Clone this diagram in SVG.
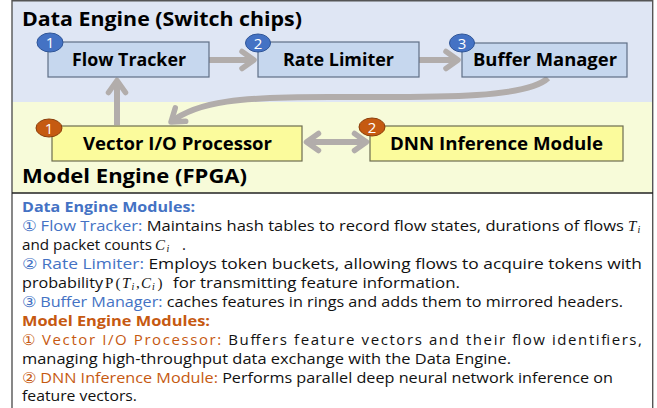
<svg xmlns="http://www.w3.org/2000/svg" width="657" height="408" viewBox="0 0 657 408">
<defs>
<style>
.t{font-family:"Open Sans","Noto Sans","Liberation Sans",sans-serif;}
.title{font-size:20px;font-weight:bold;fill:#000;}
.lbl{font-size:17.5px;font-weight:bold;fill:#000;text-anchor:middle;}
.num{font-size:15px;fill:#fff;text-anchor:middle;}
.body{font-size:15px;fill:#111;}
.blue{fill:#4472c4;}
.orange{fill:#c65911;}
.b{font-weight:bold;}
.m{font-family:"Liberation Serif","DejaVu Serif",serif;font-style:italic;font-size:15px;fill:#111;}
.ms{font-family:"Liberation Serif","DejaVu Serif",serif;font-style:italic;font-size:10px;fill:#111;}
.mr{font-family:"Liberation Serif","DejaVu Serif",serif;font-size:15px;fill:#111;}
.bbox{fill:#c6d7ee;stroke:#5f6f86;stroke-width:1.2;}
.ybox{fill:#fbfb9c;stroke:#6d6d50;stroke-width:1.2;}
.bbadge{fill:#4472c4;stroke:#2f5597;stroke-width:1;}
.obadge{fill:#c55a11;stroke:#8a3d0a;stroke-width:1;}
.arr{fill:none;stroke:#b2adab;stroke-width:6;}
</style>
<marker id="chev" markerUnits="userSpaceOnUse" markerWidth="40" markerHeight="40" viewBox="-20 -20 40 40" refX="0" refY="0" orient="auto-start-reverse" overflow="visible">
<path d="M-12,-8.5 L0,0 L-12,8.5" fill="none" stroke="#b2adab" stroke-width="5.5" stroke-linecap="round" stroke-linejoin="round"/>
</marker>
</defs>

<!-- backgrounds -->
<rect x="12" y="0" width="641" height="102" fill="#dfe6f4"/>
<rect x="12" y="102" width="641" height="91" fill="#f7fbd9"/>
<rect x="12" y="193" width="641" height="220" fill="#ffffff"/>
<line x1="12" y1="0.7" x2="653" y2="0.7" stroke="#555" stroke-width="1.4"/>
<line x1="12" y1="0" x2="12" y2="408" stroke="#555" stroke-width="1.4"/>
<line x1="652.7" y1="0" x2="652.7" y2="408" stroke="#555" stroke-width="1.4"/>
<line x1="12" y1="193" x2="653" y2="193" stroke="#222" stroke-width="1.4"/>

<text class="t title" x="22" y="26" textLength="280" lengthAdjust="spacingAndGlyphs">Data Engine (Switch chips)</text>
<text class="t title" x="22" y="183" textLength="225" lengthAdjust="spacingAndGlyphs">Model Engine (FPGA)</text>

<!-- connectors -->
<g id="connectors">
<line class="arr" x1="209" y1="60" x2="254" y2="60" marker-end="url(#chev)"/>
<line class="arr" x1="419" y1="60" x2="458" y2="60" marker-end="url(#chev)"/>
<line class="arr" x1="117" y1="125" x2="117" y2="80.5" marker-end="url(#chev)"/>
<path class="arr" d="M548,78 C525,100 420,97 330,97 C240,97 198,101 171,122" marker-end="url(#chev)"/>
<line class="arr" x1="306.5" y1="142" x2="366.5" y2="142" marker-start="url(#chev)" marker-end="url(#chev)"/>
</g>

<!-- nodes -->
<g id="flow-tracker">
<rect class="bbox" x="48" y="42" width="161" height="35"/>
<text class="t lbl" x="129" y="65.5" textLength="114" lengthAdjust="spacingAndGlyphs">Flow Tracker</text>
<ellipse class="bbadge" cx="50" cy="42.5" rx="13" ry="9.5"/>
<text class="t num" x="50" y="48">1</text>
</g>
<g id="rate-limiter">
<rect class="bbox" x="258" y="42" width="161" height="35"/>
<text class="t lbl" x="338.5" y="65.5" textLength="111" lengthAdjust="spacingAndGlyphs">Rate Limiter</text>
<ellipse class="bbadge" cx="258" cy="43" rx="12.5" ry="9"/>
<text class="t num" x="258" y="48.5">2</text>
</g>
<g id="buffer-manager">
<rect class="bbox" x="462" y="43" width="165" height="34"/>
<text class="t lbl" x="545" y="65.5" textLength="144" lengthAdjust="spacingAndGlyphs">Buffer Manager</text>
<ellipse class="bbadge" cx="462" cy="43" rx="12.5" ry="9"/>
<text class="t num" x="462" y="48.5">3</text>
</g>
<g id="vector-io">
<rect class="ybox" x="52" y="126" width="250" height="35"/>
<text class="t lbl" x="177.5" y="149.5" textLength="189" lengthAdjust="spacingAndGlyphs">Vector I/O Processor</text>
<ellipse class="obadge" cx="49" cy="128" rx="13" ry="9"/>
<text class="t num" x="49" y="133.5">1</text>
</g>
<g id="dnn-inference">
<rect class="ybox" x="370" y="126" width="253" height="35"/>
<text class="t lbl" x="496.5" y="149.5" textLength="213" lengthAdjust="spacingAndGlyphs">DNN Inference Module</text>
<ellipse class="obadge" cx="372" cy="127" rx="13" ry="9"/>
<text class="t num" x="372" y="132.5">2</text>
</g>

<!-- description text -->
<g id="description">
<text class="t body blue b" x="22" y="212" textLength="173" lengthAdjust="spacingAndGlyphs">Data Engine Modules:</text>

<text class="t body" x="22" y="231" textLength="602" lengthAdjust="spacingAndGlyphs"><tspan class="blue">① Flow Tracker:</tspan> Maintains hash tables to record flow states, durations of flows</text>
<text class="m" x="628" y="231">T</text>
<text class="ms" x="637.5" y="232.5">i</text>

<text class="t body" x="22" y="250" textLength="130" lengthAdjust="spacingAndGlyphs">and packet counts</text>
<text class="m" x="155" y="250">C</text>
<text class="ms" x="166.5" y="251.5">i</text>
<text class="t body" x="182" y="250">.</text>

<text class="t body" x="22" y="269" textLength="620" lengthAdjust="spacingAndGlyphs"><tspan class="blue">② Rate Limiter:</tspan> Employs token buckets, allowing flows to acquire tokens with</text>

<text class="t body" x="22" y="288" textLength="81" lengthAdjust="spacingAndGlyphs">probability</text>
<text class="mr" x="105" y="288">P</text>
<text class="mr" x="115.5" y="288">(</text>
<text class="m" x="122" y="288">T</text>
<text class="ms" x="131.5" y="289.5">i</text>
<text class="mr" x="136" y="288">,</text>
<text class="m" x="141" y="288">C</text>
<text class="ms" x="152" y="289.5">i</text>
<text class="mr" x="157.5" y="288">)</text>
<text class="t body" x="173" y="288" textLength="287" lengthAdjust="spacingAndGlyphs">for transmitting feature information.</text>

<text class="t body" x="22" y="307" textLength="601" lengthAdjust="spacingAndGlyphs"><tspan class="blue">③ Buffer Manager:</tspan> caches features in rings and adds them to mirrored headers.</text>
<text class="t body orange b" x="22" y="326" textLength="188" lengthAdjust="spacingAndGlyphs">Model Engine Modules:</text>
<text class="t body" x="22" y="345" textLength="620" lengthAdjust="spacing"><tspan class="orange">① Vector I/O Processor:</tspan> Buffers feature vectors and their flow identifiers,</text>
<text class="t body" x="22" y="363.5" textLength="489" lengthAdjust="spacingAndGlyphs">managing high-throughput data exchange with the Data Engine.</text>
<text class="t body" x="22" y="382.5" textLength="591" lengthAdjust="spacingAndGlyphs"><tspan class="orange">② DNN Inference Module:</tspan> Performs parallel deep neural network inference on</text>
<text class="t body" x="22" y="401" textLength="115" lengthAdjust="spacingAndGlyphs">feature vectors.</text>
</g>
</svg>
